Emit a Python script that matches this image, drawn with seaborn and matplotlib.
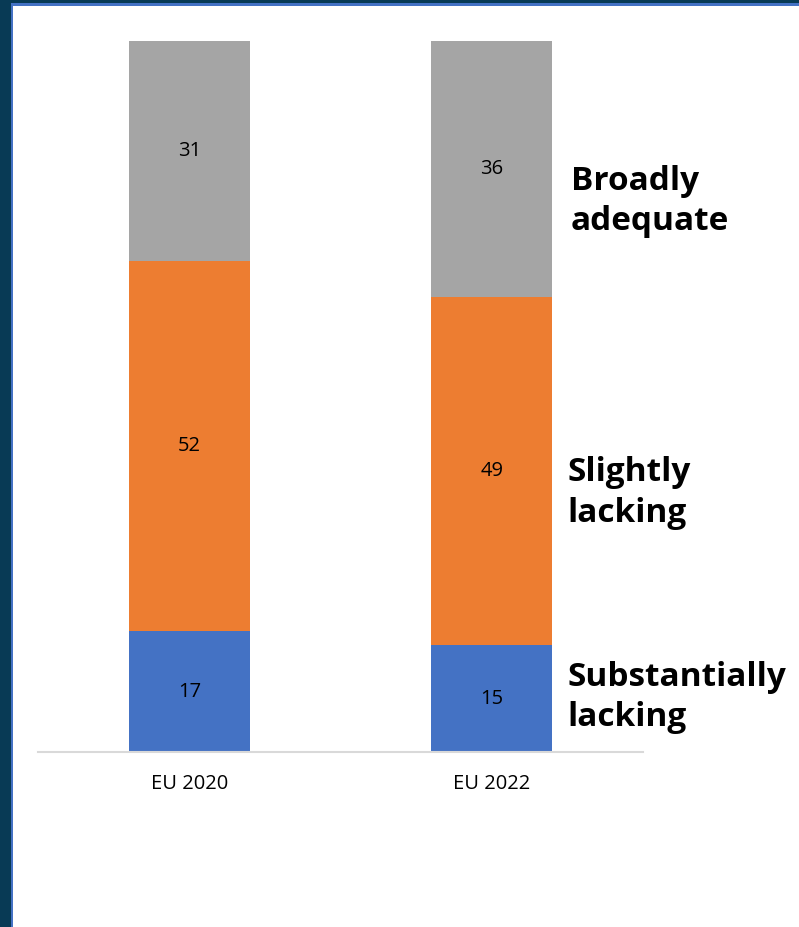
import matplotlib
matplotlib.use("Agg")
import matplotlib.pyplot as plt
from matplotlib.patches import Rectangle
import seaborn as sns
import pandas as pd
import numpy as np

# Shares (%) per period, bottom to top of each stacked bar
periods = ["EU 2020", "EU 2022"]
substantially_lacking = [17, 15]
slightly_lacking = [52, 49]
broadly_adequate = [31, 36]

series_names = ["Substantially\nlacking", "Slightly\nlacking", "Broadly\nadequate"]
series_colors = ["#4472C4", "#ED7D31", "#A5A5A5"]

sns.set_theme(style="white")
plt.rcParams["font.family"] = ["Open Sans", "DejaVu Sans"]

fig = plt.figure(figsize=(7.99, 9.27), dpi=100)
ax = fig.add_axes([38 / 799, 175 / 927, 605 / 799, 711 / 927])

layers = [substantially_lacking, slightly_lacking, broadly_adequate]
cum = np.cumsum(np.array(layers), axis=0)

# Draw cumulative totals from the top layer down so each segment shows through
for i in reversed(range(len(layers))):
    df = pd.DataFrame({"period": periods, "value": cum[i]})
    sns.barplot(data=df, x="period", y="value", color=series_colors[i],
                width=0.4, saturation=1, ax=ax, edgecolor="none", linewidth=0)

# Segment value labels
for j in range(len(periods)):
    base = 0
    for i, vals in enumerate(layers):
        v = vals[j]
        ax.text(j, base + v / 2, f"{v}", ha="center", va="center",
                fontsize=14.5, color="#000000")
        base += v

ax.set_xlim(-0.5, 1.5)
ax.set_ylim(0, 100)
ax.set_xlabel("")
ax.set_ylabel("")
ax.set_yticks([])
ax.tick_params(axis="x", length=0, pad=16, labelsize=14.5, labelcolor="#000000")
for side in ["top", "right", "left"]:
    ax.spines[side].set_visible(False)
ax.spines["bottom"].set_color("#D9D9D9")
ax.spines["bottom"].set_linewidth(1.5)

# Series names beside the second bar
label_pos = [(1.249, 7.7), (1.249, 36.4), (1.262, 77.4)]
for name, (x, y) in zip(series_names, label_pos):
    ax.text(x, y, name, ha="left", va="center", fontsize=24, fontweight="bold",
            color="#000000", linespacing=1.3, clip_on=False)

# Slide frame along the left and top edges
W, H = 799, 927
fig.patches.append(Rectangle((0, 0), 10.5 / W, 1, transform=fig.transFigure,
                             facecolor="#083A55", edgecolor="none", zorder=5))
fig.patches.append(Rectangle((10.5 / W, 0), 2.5 / W, 1, transform=fig.transFigure,
                             facecolor="#4472C4", edgecolor="none", zorder=5))
fig.patches.append(Rectangle((0, 1 - 3 / H), 1, 3 / H, transform=fig.transFigure,
                             facecolor="#083A55", edgecolor="none", zorder=5))
fig.patches.append(Rectangle((10.5 / W, 1 - 6 / H), 1, 3 / H, transform=fig.transFigure,
                             facecolor="#4472C4", edgecolor="none", zorder=5))

fig.savefig("out.png", dpi=100)
